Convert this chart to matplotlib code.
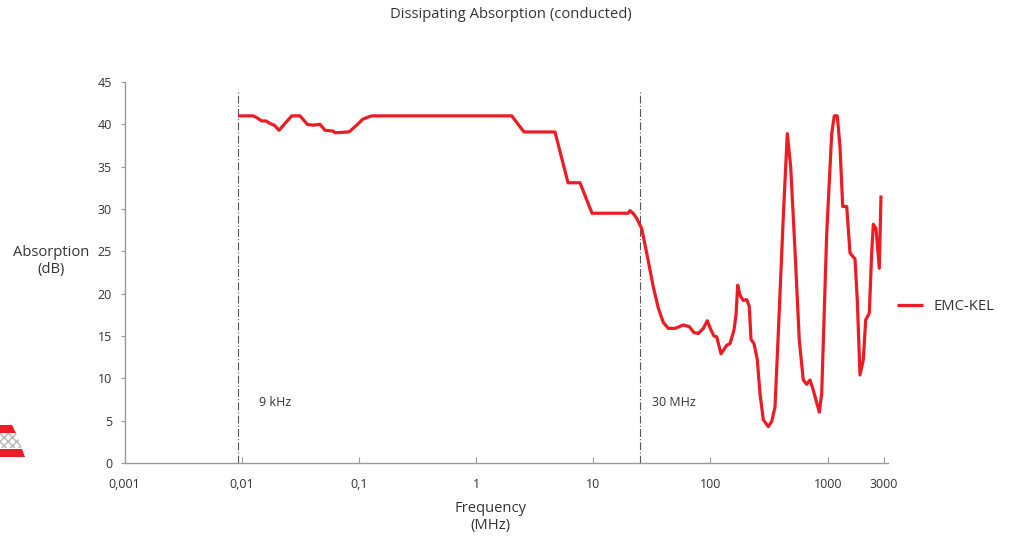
import matplotlib
matplotlib.use("Agg")
import matplotlib.pyplot as plt
from matplotlib.patches import Polygon

plt.rcParams['font.family'] = ['Open Sans', 'DejaVu Sans']

# ---- data ----
freq_mhz = [0.0093, 0.01256, 0.01343, 0.01482, 0.01612, 0.01744, 0.01897, 0.02081,
            0.02671, 0.03144, 0.03628, 0.04035, 0.04657, 0.05138, 0.06047, 0.06252,
            0.08121, 0.08397, 0.09576, 0.1077, 0.1166, 0.1286, 2.013, 2.563, 4.712,
            6.083, 7.701, 9.75, 19.78, 20.57, 21.82, 23.46, 25.88, 28.55, 32.5, 35.86,
            39.57, 43.64, 49.8, 58.62, 65.93, 72.32, 78.69, 86.83, 93.91, 101.0, 107.1,
            113.0, 122.9, 137.5, 146.7, 158.7, 165.1, 170.7, 178.6, 190.5, 203.7, 214.3,
            221.6, 235.0, 250.8, 264.5, 282.2, 311.3, 332.8, 355.1, 378.8, 418.0, 452.1,
            483.3, 526.0, 572.3, 619.0, 661.9, 706.3, 753.9, 847.9, 888.9, 980.6, 1082,
            1138, 1207, 1273, 1343, 1453, 1550, 1710, 1789, 1886, 2013, 2110, 2264, 2373,
            2450, 2583, 2756, 2850]
absorption_db = [41.0, 41.0, 40.8, 40.4, 40.4, 40.1, 39.9, 39.3,
                 41.0, 41.0, 40.0, 39.9, 40.0, 39.3, 39.2, 39.0,
                 39.1, 39.2, 39.9, 40.6, 40.8, 41.0, 41.0, 39.1, 39.1,
                 33.1, 33.1, 29.5, 29.5, 29.8, 29.5, 28.9, 27.7, 24.8, 20.8, 18.3,
                 16.6, 15.9, 15.9, 16.3, 16.1, 15.4, 15.3, 15.9, 16.8, 15.7, 15.0,
                 14.9, 12.9, 13.9, 14.1, 15.7, 17.5, 21.0, 19.8, 19.2, 19.3, 18.5,
                 14.6, 14.1, 12.2, 8.2, 5.1, 4.3, 4.9, 6.6, 15.3, 29.1, 38.9,
                 35.0, 25.1, 14.5, 9.8, 9.3, 9.8, 8.6, 6.0, 8.2, 27.1, 38.9,
                 41.0, 41.0, 37.4, 30.3, 30.3, 24.8, 24.1, 19.2, 10.4, 12.2, 16.9, 17.7, 24.8,
                 28.2, 27.7, 23.0, 31.6]
series_name = "EMC-KEL"

x_ticks = [0.001, 0.01, 0.1, 1, 10, 100, 1000, 3000]
x_tick_labels = ["0,001", "0,01", "0,1", "1", "10", "100", "1000", "3000"]
y_ticks = [0, 5, 10, 15, 20, 25, 30, 35, 40, 45]

marker_freqs = [0.0093, 25.0]
marker_labels = ["9 kHz", "30 MHz"]
marker_label_x = [0.0141, 31.7]

RED = '#ED1C24'
TXT = '#333333'
AXC = '#9a9a9a'

fig = plt.figure(figsize=(10.09, 5.40), dpi=100)
ax = fig.add_axes([124.5 / 1009, (540 - 463) / 540, (888 - 124.5) / 1009, (463 - 82) / 540])

ax.plot(freq_mhz, absorption_db, color=RED, lw=2.3, solid_joinstyle='round',
        solid_capstyle='butt', label=series_name, zorder=3)

for f in marker_freqs:
    ax.vlines(f, 0, 44, colors='#555555', lw=0.8, linestyles=[(0, (7, 2, 1, 2))], zorder=2)
for xl, t in zip(marker_label_x, marker_labels):
    ax.text(xl, 7.1, t, fontsize=9, color=TXT, ha='left', va='center')

ax.set_xscale('log')
ax.set_xlim(0.001, 3270)
ax.set_ylim(0, 45)
ax.set_xticks(x_ticks)
ax.set_xticklabels(x_tick_labels)
ax.xaxis.set_minor_locator(matplotlib.ticker.NullLocator())
ax.set_yticks(y_ticks)

for s in ['top', 'right']:
    ax.spines[s].set_visible(False)
for s in ['left', 'bottom']:
    ax.spines[s].set_color(AXC)
    ax.spines[s].set_linewidth(1.0)

ax.tick_params(axis='x', direction='in', length=4, color=AXC, labelsize=9, labelcolor=TXT, pad=11)
ax.tick_params(axis='y', direction='out', length=3, color=AXC, labelsize=9, labelcolor=TXT, pad=6)

fig.text(511 / 1009, 1 - 15 / 540, "Dissipating Absorption (conducted)", ha='center', va='center',
         fontsize=10.6, color=TXT)
fig.text(51 / 1009, 1 - 261 / 540, "Absorption\n(dB)", ha='center', va='center',
         fontsize=10.6, color=TXT, linespacing=1.25)
fig.text(490 / 1009, 1 - 517 / 540, "Frequency\n(MHz)", ha='center', va='center',
         fontsize=10.6, color=TXT, linespacing=1.25)

ax.legend(loc='center left', bbox_to_anchor=(1.0118, (463 - 307) / 381), frameon=False,
          fontsize=10.6, handlelength=1.75, handletextpad=0.7, borderpad=0, borderaxespad=0,
          labelcolor=TXT)

# logo decoration bottom-left
def px(pts):
    return [(x / 1009, 1 - y / 540) for x, y in pts]

fig.patches.append(Polygon(px([(0, 425), (12, 425), (16, 433), (0, 433)]), closed=True,
                           transform=fig.transFigure, facecolor=RED, edgecolor='none'))
fig.patches.append(Polygon(px([(0, 433), (16, 433), (22, 448), (0, 448)]), closed=True,
                           transform=fig.transFigure, facecolor='white', edgecolor='#b5b5b5',
                           hatch='xxxx', lw=0))
fig.patches.append(Polygon(px([(0, 449), (22, 449), (25, 457), (0, 457)]), closed=True,
                           transform=fig.transFigure, facecolor=RED, edgecolor='none'))

fig.savefig('out.png', dpi=100)
